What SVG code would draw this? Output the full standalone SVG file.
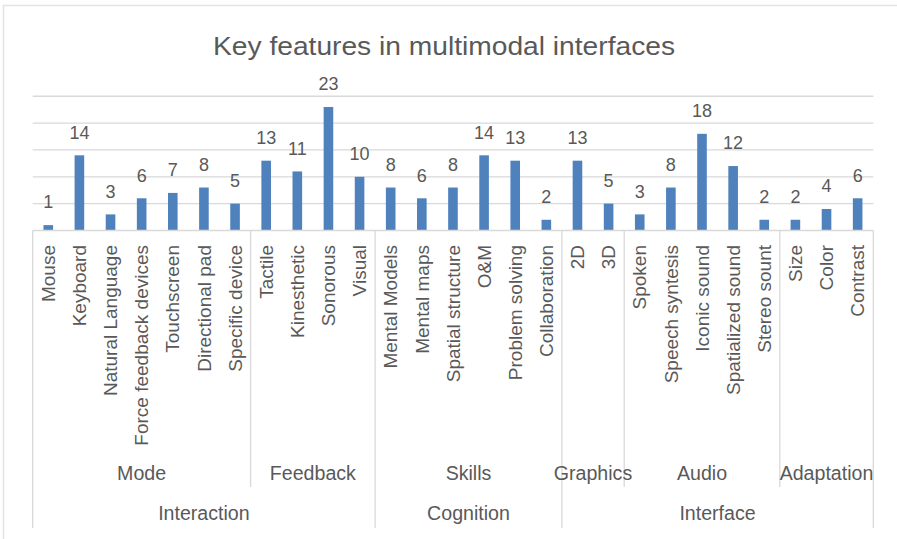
<svg xmlns="http://www.w3.org/2000/svg" width="897" height="539" viewBox="0 0 897 539">
<style>
.bar{fill:#4f81bd}
.val{font-family:"Liberation Sans",Arial,sans-serif;font-size:18px;fill:#595959;text-anchor:middle}
.cat{font-family:"Liberation Sans",Arial,sans-serif;font-size:19px;fill:#595959;text-anchor:end}
.grp{font-family:"Liberation Sans",Arial,sans-serif;font-size:19.6px;fill:#595959;text-anchor:middle}
.grid{stroke:#d9d9d9;stroke-width:1.3;fill:none}
.sep{stroke:#d9d9d9;stroke-width:1.3;fill:none}
.title{font-family:"Liberation Sans",Arial,sans-serif;font-size:26px;fill:#595959;text-anchor:middle}
</style>
<rect x="0" y="0" width="897" height="539" fill="#ffffff"/>
<path d="M3.5,539 V5.5 H897" stroke="#e3e3e3" stroke-width="1.5" fill="none"/>
<text class="title" x="444" y="55" textLength="462" lengthAdjust="spacingAndGlyphs">Key features in multimodal interfaces</text>
<g id="gridlines">
<path class="grid" d="M32.7,96.25 H873.3 M32.7,123.1 H873.3 M32.7,149.95 H873.3 M32.7,176.8 H873.3 M32.7,203.65 H873.3"/>
</g>
<g id="n0"><rect class="bar" x="43.47" y="225.13" width="9.6" height="5.37"/><text class="val" x="48.27" y="208.3">1</text><text class="cat" transform="translate(54.97,245) rotate(-90)">Mouse</text></g>
<g id="n1"><rect class="bar" x="74.6" y="155.32" width="9.6" height="75.18"/><text class="val" x="79.4" y="138.5">14</text><text class="cat" transform="translate(86.1,245) rotate(-90)">Keyboard</text></g>
<g id="n2"><rect class="bar" x="105.73" y="214.39" width="9.6" height="16.11"/><text class="val" x="110.53" y="197.6">3</text><text class="cat" transform="translate(117.23,245) rotate(-90)">Natural Language</text></g>
<g id="n3"><rect class="bar" x="136.86" y="198.28" width="9.6" height="32.22"/><text class="val" x="141.66" y="181.5">6</text><text class="cat" transform="translate(148.36,245) rotate(-90)">Force feedback devices</text></g>
<g id="n4"><rect class="bar" x="167.99" y="192.91" width="9.6" height="37.59"/><text class="val" x="172.79" y="176.1">7</text><text class="cat" transform="translate(179.49,245) rotate(-90)">Touchscreen</text></g>
<g id="n5"><rect class="bar" x="199.12" y="187.54" width="9.6" height="42.96"/><text class="val" x="203.92" y="170.7">8</text><text class="cat" transform="translate(210.62,245) rotate(-90)">Directional pad</text></g>
<g id="n6"><rect class="bar" x="230.25" y="203.65" width="9.6" height="26.85"/><text class="val" x="235.05" y="186.9">5</text><text class="cat" transform="translate(241.75,245) rotate(-90)">Specific device</text></g>
<g id="n7"><rect class="bar" x="261.38" y="160.69" width="9.6" height="69.81"/><text class="val" x="266.18" y="143.9">13</text><text class="cat" transform="translate(272.88,245) rotate(-90)">Tactile</text></g>
<g id="n8"><rect class="bar" x="292.51" y="171.43" width="9.6" height="59.07"/><text class="val" x="297.31" y="154.6">11</text><text class="cat" transform="translate(304.01,245) rotate(-90)">Kinesthetic</text></g>
<g id="n9"><rect class="bar" x="323.64" y="106.99" width="9.6" height="123.51"/><text class="val" x="328.44" y="90.2">23</text><text class="cat" transform="translate(335.14,245) rotate(-90)">Sonorous</text></g>
<g id="n10"><rect class="bar" x="354.77" y="176.8" width="9.6" height="53.7"/><text class="val" x="359.57" y="160">10</text><text class="cat" transform="translate(366.27,245) rotate(-90)">Visual</text></g>
<g id="n11"><rect class="bar" x="385.9" y="187.54" width="9.6" height="42.96"/><text class="val" x="390.7" y="170.7">8</text><text class="cat" transform="translate(397.4,245) rotate(-90)">Mental Models</text></g>
<g id="n12"><rect class="bar" x="417.03" y="198.28" width="9.6" height="32.22"/><text class="val" x="421.83" y="181.5">6</text><text class="cat" transform="translate(428.53,245) rotate(-90)">Mental maps</text></g>
<g id="n13"><rect class="bar" x="448.16" y="187.54" width="9.6" height="42.96"/><text class="val" x="452.96" y="170.7">8</text><text class="cat" transform="translate(459.66,245) rotate(-90)">Spatial structure</text></g>
<g id="n14"><rect class="bar" x="479.29" y="155.32" width="9.6" height="75.18"/><text class="val" x="484.09" y="138.5">14</text><text class="cat" transform="translate(490.79,245) rotate(-90)">O&amp;M</text></g>
<g id="n15"><rect class="bar" x="510.42" y="160.69" width="9.6" height="69.81"/><text class="val" x="515.22" y="143.9">13</text><text class="cat" transform="translate(521.92,245) rotate(-90)">Problem solving</text></g>
<g id="n16"><rect class="bar" x="541.55" y="219.76" width="9.6" height="10.74"/><text class="val" x="546.35" y="203">2</text><text class="cat" transform="translate(553.05,245) rotate(-90)">Collaboration</text></g>
<g id="n17"><rect class="bar" x="572.68" y="160.69" width="9.6" height="69.81"/><text class="val" x="577.48" y="143.9">13</text><text class="cat" transform="translate(584.18,245) rotate(-90)">2D</text></g>
<g id="n18"><rect class="bar" x="603.81" y="203.65" width="9.6" height="26.85"/><text class="val" x="608.61" y="186.9">5</text><text class="cat" transform="translate(615.31,245) rotate(-90)">3D</text></g>
<g id="n19"><rect class="bar" x="634.94" y="214.39" width="9.6" height="16.11"/><text class="val" x="639.74" y="197.6">3</text><text class="cat" transform="translate(646.44,245) rotate(-90)">Spoken</text></g>
<g id="n20"><rect class="bar" x="666.07" y="187.54" width="9.6" height="42.96"/><text class="val" x="670.87" y="170.7">8</text><text class="cat" transform="translate(677.57,245) rotate(-90)">Speech syntesis</text></g>
<g id="n21"><rect class="bar" x="697.2" y="133.84" width="9.6" height="96.66"/><text class="val" x="702" y="117">18</text><text class="cat" transform="translate(708.7,245) rotate(-90)">Iconic sound</text></g>
<g id="n22"><rect class="bar" x="728.33" y="166.06" width="9.6" height="64.44"/><text class="val" x="733.13" y="149.3">12</text><text class="cat" transform="translate(739.83,245) rotate(-90)">Spatialized sound</text></g>
<g id="n23"><rect class="bar" x="759.46" y="219.76" width="9.6" height="10.74"/><text class="val" x="764.26" y="203">2</text><text class="cat" transform="translate(770.96,245) rotate(-90)">Stereo sount</text></g>
<g id="n24"><rect class="bar" x="790.59" y="219.76" width="9.6" height="10.74"/><text class="val" x="795.39" y="203">2</text><text class="cat" transform="translate(802.09,245) rotate(-90)">Size</text></g>
<g id="n25"><rect class="bar" x="821.72" y="209.02" width="9.6" height="21.48"/><text class="val" x="826.52" y="192.2">4</text><text class="cat" transform="translate(833.22,245) rotate(-90)">Color</text></g>
<g id="n26"><rect class="bar" x="852.85" y="198.28" width="9.6" height="32.22"/><text class="val" x="857.65" y="181.5">6</text><text class="cat" transform="translate(864.35,245) rotate(-90)">Contrast</text></g>
<g id="connectors">
<path class="sep" d="M32.7,230.5 H873.3"/>
<path class="sep" d="M32.7,230.5 V528 M375.1,230.5 V528 M561.9,230.5 V528 M873.3,230.5 V528"/>
<path class="sep" d="M250.6,230.5 V487 M624.2,230.5 V487 M779.8,230.5 V487"/>
</g>
<g id="groups">
<text class="grp" x="141.6" y="480">Mode</text>
<text class="grp" x="312.9" y="480">Feedback</text>
<text class="grp" x="468.5" y="480">Skills</text>
<text class="grp" x="593" y="480">Graphics</text>
<text class="grp" x="702" y="480">Audio</text>
<text class="grp" x="826.5" y="480">Adaptation</text>
<text class="grp" x="203.9" y="520">Interaction</text>
<text class="grp" x="468.5" y="520">Cognition</text>
<text class="grp" x="717.5" y="520">Interface</text>
</g>
</svg>
